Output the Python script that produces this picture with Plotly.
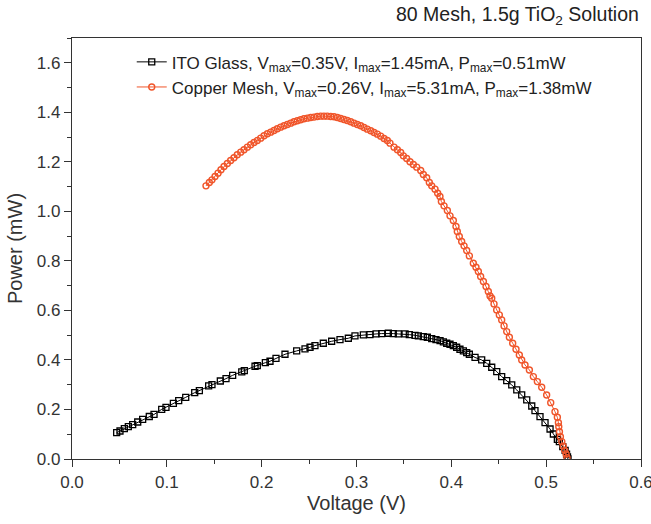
import plotly.graph_objects as go

# ITO Glass series (Voltage V, Power mW)
ito_v = [0.0471, 0.0506, 0.0552, 0.0594, 0.0640, 0.0693, 0.0745, 0.0815, 0.0865, 0.0946,
         0.0991, 0.1069, 0.1125, 0.1199, 0.1294, 0.1343, 0.1441, 0.1476, 0.1564, 0.1624,
         0.1694, 0.1790, 0.1817, 0.1930, 0.1954, 0.2039, 0.2088, 0.2151, 0.2246, 0.2369,
         0.2457, 0.2510, 0.2562, 0.2650, 0.2738, 0.2826, 0.2914, 0.2984, 0.3072, 0.3142,
         0.3206, 0.3266, 0.3336, 0.3388, 0.3441, 0.3512, 0.3557, 0.3617, 0.3652, 0.3704,
         0.3747, 0.3793, 0.3838, 0.3881, 0.3916, 0.3951, 0.3986, 0.4021, 0.4056, 0.4091,
         0.4127, 0.4162, 0.4190, 0.4250, 0.4320, 0.4373, 0.4426, 0.4479, 0.4531, 0.4584,
         0.4637, 0.4690, 0.4742, 0.4795, 0.4848, 0.4882, 0.4935, 0.4988, 0.5041, 0.5076,
         0.5118, 0.5139, 0.5175, 0.5200, 0.5215, 0.5225, 0.5230]
ito_p = [0.1064, 0.1130, 0.1226, 0.1306, 0.1387, 0.1495, 0.1600, 0.1717, 0.1798, 0.2006,
         0.2087, 0.2250, 0.2357, 0.2490, 0.2680, 0.2760, 0.2950, 0.3000, 0.3150, 0.3245,
         0.3380, 0.3515, 0.3570, 0.3745, 0.3770, 0.3890, 0.3947, 0.4060, 0.4230, 0.4364,
         0.4444, 0.4512, 0.4579, 0.4673, 0.4754, 0.4821, 0.4875, 0.4970, 0.5010, 0.5023,
         0.5050, 0.5064, 0.5077, 0.5064, 0.5050, 0.5050, 0.5023, 0.4996, 0.4970, 0.4943,
         0.4916, 0.4862, 0.4821, 0.4780, 0.4727, 0.4673, 0.4633, 0.4579, 0.4512, 0.4431,
         0.4364, 0.4296, 0.4230, 0.4100, 0.4000, 0.3865, 0.3704, 0.3529, 0.3327, 0.3165,
         0.2990, 0.2788, 0.2586, 0.2384, 0.2141, 0.1953, 0.1710, 0.1468, 0.1212, 0.1010,
         0.0795, 0.0700, 0.0500, 0.0350, 0.0200, 0.0080, 0.0000]

# Copper Mesh series (Voltage V, Power mW)
cu_v = [0.1413, 0.1448, 0.1476, 0.1508, 0.1540, 0.1571, 0.1603, 0.1638, 0.1673, 0.1708,
        0.1743, 0.1779, 0.1814, 0.1849, 0.1884, 0.1919, 0.1954, 0.1990, 0.2025, 0.2060,
        0.2095, 0.2130, 0.2165, 0.2200, 0.2236, 0.2271, 0.2306, 0.2341, 0.2376, 0.2411,
        0.2446, 0.2482, 0.2517, 0.2552, 0.2587, 0.2622, 0.2657, 0.2692, 0.2728, 0.2763,
        0.2798, 0.2833, 0.2868, 0.2903, 0.2939, 0.2974, 0.3009, 0.3044, 0.3079, 0.3114,
        0.3150, 0.3185, 0.3220, 0.3255, 0.3290, 0.3325, 0.3353, 0.3396, 0.3431, 0.3466,
        0.3494, 0.3529, 0.3564, 0.3599, 0.3635, 0.3677, 0.3705, 0.3740, 0.3768, 0.3793,
        0.3828, 0.3856, 0.3880, 0.3895, 0.3923, 0.3958, 0.3986, 0.4021, 0.4049, 0.4063,
        0.4084, 0.4109, 0.4134, 0.4162, 0.4190, 0.4232, 0.4260, 0.4285, 0.4309, 0.4338,
        0.4366, 0.4390, 0.4408, 0.4426, 0.4450, 0.4478, 0.4506, 0.4531, 0.4556, 0.4584,
        0.4612, 0.4647, 0.4682, 0.4717, 0.4742, 0.4777, 0.4823, 0.4865, 0.4907, 0.4953,
        0.5005, 0.5048, 0.5093, 0.5118, 0.5129, 0.5133, 0.5140, 0.5150, 0.5165, 0.5180,
        0.5195, 0.5210, 0.5220]
cu_p = [1.1030, 1.1165, 1.1273, 1.1407, 1.1542, 1.1677, 1.1811, 1.1933, 1.2054, 1.2162,
        1.2283, 1.2391, 1.2485, 1.2593, 1.2687, 1.2781, 1.2862, 1.2956, 1.3051, 1.3131,
        1.3199, 1.3266, 1.3333, 1.3401, 1.3455, 1.3508, 1.3562, 1.3616, 1.3657, 1.3697,
        1.3737, 1.3764, 1.3791, 1.3805, 1.3832, 1.3845, 1.3845, 1.3845, 1.3832, 1.3818,
        1.3791, 1.3751, 1.3711, 1.3670, 1.3616, 1.3562, 1.3508, 1.3455, 1.3387, 1.3320,
        1.3253, 1.3185, 1.3118, 1.3037, 1.2943, 1.2862, 1.2754, 1.2593, 1.2485, 1.2377,
        1.2242, 1.2135, 1.2000, 1.1892, 1.1785, 1.1650, 1.1488, 1.1354, 1.1165, 1.1030,
        1.0896, 1.0734, 1.0599, 1.0397, 1.0222, 1.0034, 0.9818, 0.9630, 0.9387, 0.9185,
        0.8983, 0.8781, 0.8606, 0.8418, 0.8202, 0.7906, 0.7744, 0.7569, 0.7367, 0.7165,
        0.6963, 0.6761, 0.6586, 0.6492, 0.6263, 0.6020, 0.5818, 0.5616, 0.5374, 0.5145,
        0.4916, 0.4673, 0.4431, 0.4202, 0.4000, 0.3798, 0.3596, 0.3327, 0.3125, 0.2896,
        0.2586, 0.2276, 0.1912, 0.1684, 0.1468, 0.1306, 0.1100, 0.0900, 0.0700, 0.0520,
        0.0350, 0.0200, 0.0050]

x_ticks = [0.0, 0.1, 0.2, 0.3, 0.4, 0.5, 0.6]
y_ticks = [0.0, 0.2, 0.4, 0.6, 0.8, 1.0, 1.2, 1.4, 1.6]

ito_name = "ITO Glass, V<sub>max</sub>=0.35V, I<sub>max</sub>=1.45mA, P<sub>max</sub>=0.51mW"
cu_name = "Copper Mesh, V<sub>max</sub>=0.26V, I<sub>max</sub>=5.31mA, P<sub>max</sub>=1.38mW"
title_text = "80 Mesh, 1.5g TiO<sub>2</sub> Solution"

FONT = "Liberation Sans, Arial, sans-serif"
ORANGE = "#F0552A"
AXC = "#333333"

fig = go.Figure()
fig.add_trace(go.Scatter(
    x=ito_v, y=ito_p, mode="lines+markers", name=ito_name,
    line=dict(color="black", width=1),
    marker=dict(symbol="square-open", size=6, color="black", line=dict(width=1.3)),
))
fig.add_trace(go.Scatter(
    x=cu_v, y=cu_p, mode="lines+markers", name=cu_name,
    line=dict(color=ORANGE, width=1),
    marker=dict(symbol="circle-open", size=6, color=ORANGE, line=dict(width=1.4)),
))

axis_common = dict(
    showgrid=False, zeroline=False, showline=True, linecolor=AXC, linewidth=1.2,
    mirror=True, ticks="outside", ticklen=7, tickwidth=1.2, tickcolor=AXC,
    tickfont=dict(family=FONT, size=17, color=AXC),
    ticklabeloverflow="allow", automargin=False,
)

fig.update_xaxes(
    range=[0, 0.6], tickvals=x_ticks, ticktext=[f"{v:.1f}" for v in x_ticks],
    title=dict(text="Voltage (V)", font=dict(family=FONT, size=20, color=AXC), standoff=2),
    minor=dict(ticks="outside", ticklen=4, tickwidth=1.2, tickcolor=AXC, dtick=0.05, tick0=0),
    **axis_common,
)
fig.update_yaxes(
    range=[0, 1.7], tickvals=y_ticks, ticktext=[f"{v:.1f}" for v in y_ticks],
    title=dict(text="Power (mW)", font=dict(family=FONT, size=20, color=AXC), standoff=8),
    minor=dict(ticks="outside", ticklen=4, tickwidth=1.2, tickcolor=AXC, dtick=0.1, tick0=0),
    **axis_common,
)

fig.add_annotation(
    text=title_text, xref="paper", yref="paper", x=1.0, y=1.0, yshift=8,
    xanchor="right", yanchor="bottom", showarrow=False,
    font=dict(family=FONT, size=19.5, color="#222222"),
)

fig.update_layout(
    width=651, height=524,
    margin=dict(l=72, r=10, t=38, b=65),
    paper_bgcolor="white", plot_bgcolor="white",
    font=dict(family=FONT, color="#222222"),
    legend=dict(
        x=0.105, y=0.985, xanchor="left", yanchor="top",
        bgcolor="rgba(0,0,0,0)", borderwidth=0,
        font=dict(family=FONT, size=17, color="#222222"),
        tracegroupgap=0,
    ),
)

fig.write_html("out.html")
